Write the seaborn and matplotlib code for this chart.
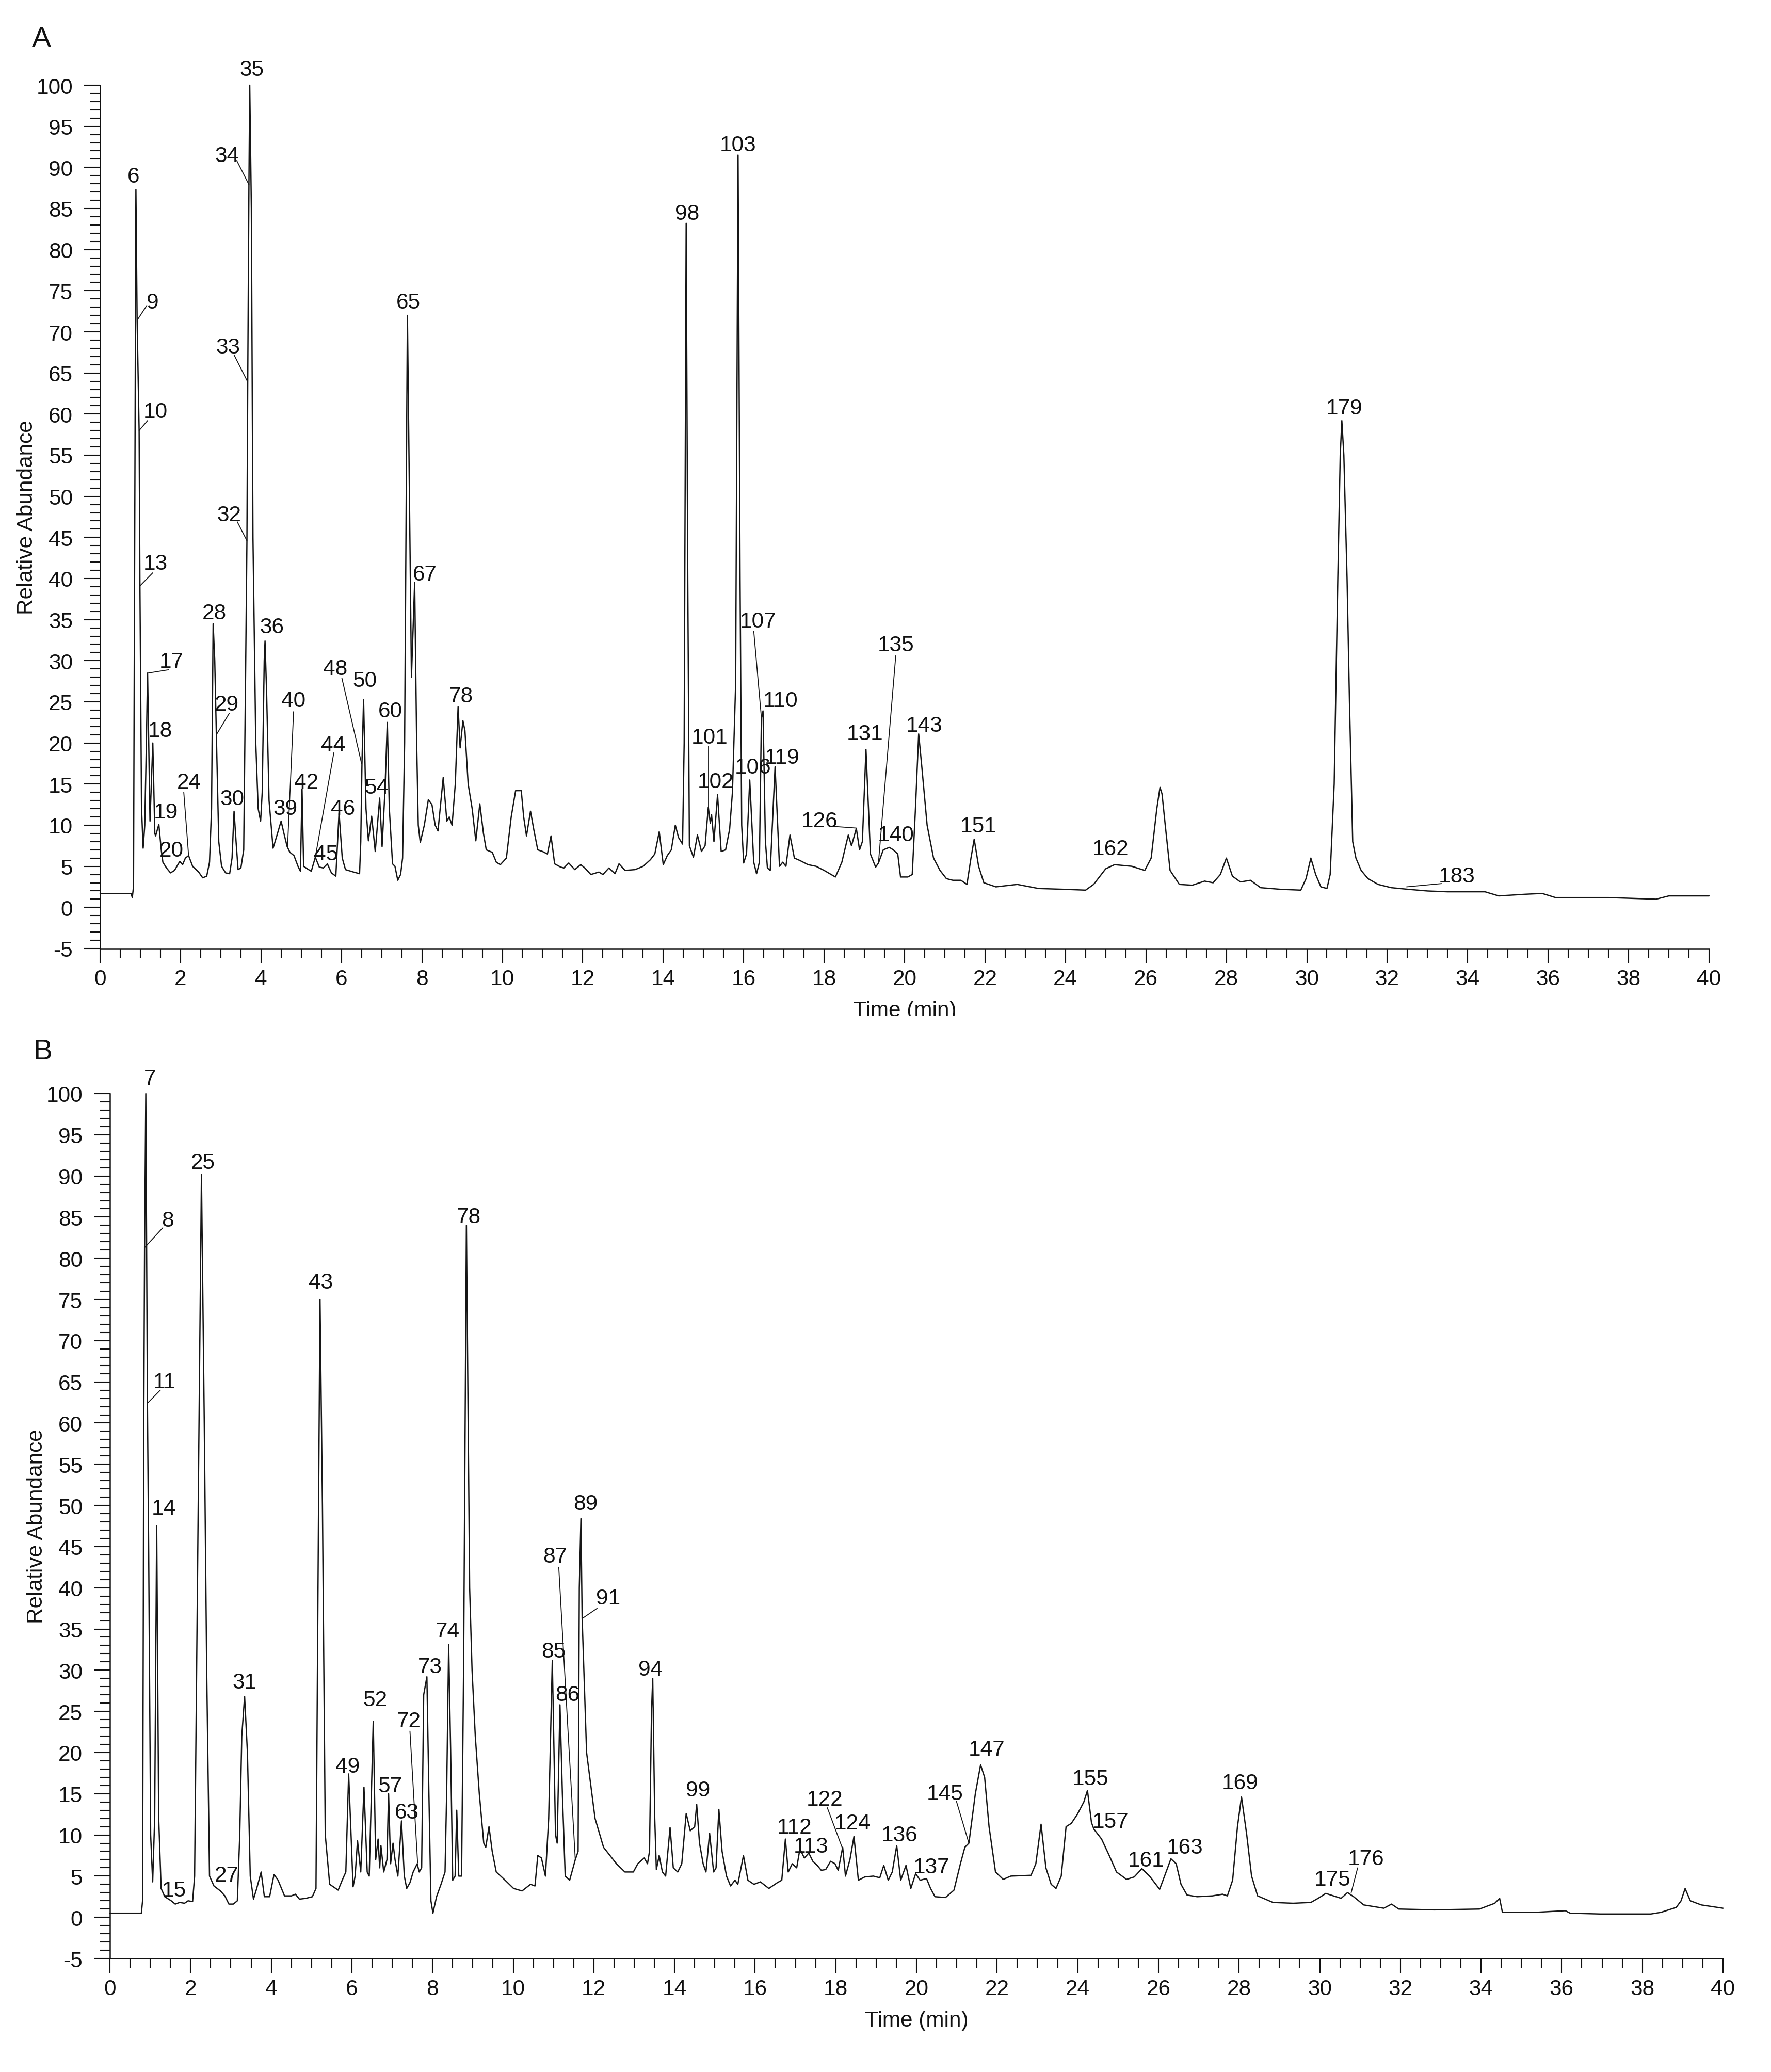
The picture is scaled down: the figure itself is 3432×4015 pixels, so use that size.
import numpy as np
import pandas as pd
import matplotlib
matplotlib.use("Agg")
import matplotlib.pyplot as plt
import seaborn as sns
from matplotlib.ticker import MultipleLocator
from matplotlib.transforms import Bbox, TransformedBbox

# ---------------- data: panel A trace (time, relative abundance) ----------------
a_time = [0.00, 0.77, 0.80, 0.83, 0.86, 0.89, 0.92, 0.97, 0.99, 1.03, 1.07, 1.11, 1.15, 1.18, 1.24,
          1.31, 1.36, 1.38, 1.46, 1.52, 1.56, 1.65, 1.75, 1.85, 1.98, 2.05, 2.12, 2.20, 2.30, 2.45,
          2.55, 2.65, 2.72, 2.77, 2.81, 2.85, 2.89, 2.95, 3.02, 3.12, 3.22, 3.28, 3.33, 3.38, 3.43,
          3.50, 3.57, 3.62, 3.65, 3.67, 3.70, 3.72, 3.76, 3.80, 3.87, 3.93, 3.99, 4.03, 4.08, 4.10,
          4.14, 4.20, 4.30, 4.38, 4.50, 4.57, 4.65, 4.72, 4.82, 4.92, 4.98, 5.02, 5.06, 5.15, 5.25,
          5.35, 5.45, 5.55, 5.65, 5.75, 5.86, 5.94, 6.02, 6.10, 6.30, 6.45, 6.48, 6.51, 6.55, 6.61,
          6.67, 6.75, 6.84, 6.95, 7.01, 7.08, 7.14, 7.19, 7.27, 7.33, 7.40, 7.47, 7.52, 7.57, 7.64,
          7.69, 7.74, 7.82, 7.87, 7.91, 7.96, 8.06, 8.16, 8.25, 8.33, 8.40, 8.53, 8.62, 8.68, 8.75,
          8.83, 8.90, 8.95, 9.02, 9.07, 9.15, 9.25, 9.34, 9.44, 9.53, 9.60, 9.75, 9.85, 9.95, 10.10,
          10.22, 10.33, 10.47, 10.53, 10.60, 10.70, 10.78, 10.88, 11.00, 11.12, 11.21, 11.30, 11.45,
          11.53, 11.65, 11.80, 11.95, 12.05, 12.20, 12.40, 12.50, 12.65, 12.80, 12.90, 13.05, 13.30,
          13.50, 13.68, 13.79, 13.90, 14.00, 14.10, 14.20, 14.30, 14.38, 14.48, 14.52, 14.57, 14.61,
          14.65, 14.75, 14.85, 14.95, 15.04, 15.12, 15.17, 15.20, 15.26, 15.35, 15.44, 15.55, 15.65,
          15.72, 15.80, 15.86, 15.91, 15.95, 16.00, 16.07, 16.15, 16.25, 16.32, 16.39, 16.44, 16.48,
          16.54, 16.59, 16.66, 16.78, 16.89, 16.97, 17.05, 17.15, 17.26, 17.40, 17.60, 17.80, 18.00,
          18.28, 18.44, 18.60, 18.68, 18.80, 18.88, 18.95, 19.04, 19.15, 19.28, 19.35, 19.47, 19.62,
          19.72, 19.83, 19.90, 20.08, 20.19, 20.27, 20.35, 20.43, 20.56, 20.72, 20.88, 21.04, 21.20,
          21.40, 21.55, 21.65, 21.73, 21.84, 21.97, 22.27, 22.80, 23.33, 23.97, 24.50, 24.70, 25.00,
          25.22, 25.65, 25.97, 26.13, 26.27, 26.35, 26.40, 26.48, 26.60, 26.83, 27.15, 27.46, 27.67,
          27.85, 28.00, 28.15, 28.35, 28.60, 28.85, 29.35, 29.85, 29.98, 30.10, 30.22, 30.35, 30.50,
          30.58, 30.68, 30.77, 30.83, 30.87, 30.92, 31.00, 31.06, 31.14, 31.22, 31.35, 31.52, 31.77,
          32.10, 32.52, 33.00, 33.50, 34.18, 34.43, 34.77, 35.43, 35.85, 36.18, 36.68, 37.50, 38.68,
          39.00, 40.00]
a_abund = [1.7, 1.7, 1.2, 2.5, 45.0, 87.3, 71.4, 58.0, 39.1, 12.0, 7.2, 10.0, 20.0, 28.5, 10.5,
           20.0, 9.0, 8.7, 10.1, 7.0, 5.5, 4.8, 4.2, 4.5, 5.6, 5.2, 6.0, 6.3, 5.0, 4.3,
           3.6, 3.8, 5.5, 12.0, 34.5, 30.0, 21.0, 8.0, 5.0, 4.2, 4.1, 6.0, 11.7, 8.0, 4.6,
           4.8, 7.0, 30.0, 44.6, 63.9, 87.9, 100.0, 85.0, 45.0, 20.0, 12.0, 10.5, 14.0, 30.0, 32.4,
           26.0, 13.0, 7.2, 8.5, 10.5, 9.0, 7.4, 6.7, 6.3, 5.0, 4.4, 14.4, 5.0, 4.7, 4.4,
           6.1, 4.9, 4.8, 5.3, 4.2, 3.8, 11.5, 6.0, 4.6, 4.3, 4.1, 8.0, 17.5, 25.3, 12.0,
           8.1, 11.1, 6.8, 13.3, 7.4, 14.0, 22.5, 12.0, 5.3, 5.0, 3.3, 4.0, 6.0, 20.0, 72.0,
           50.0, 28.0, 39.5, 20.0, 10.0, 7.9, 10.0, 13.1, 12.5, 10.0, 9.3, 15.8, 10.5, 11.0, 10.0,
           15.0, 24.4, 19.4, 22.7, 21.5, 15.0, 12.0, 8.1, 12.6, 9.0, 7.0, 6.7, 5.5, 5.2, 6.0,
           11.0, 14.2, 14.2, 11.0, 8.7, 11.7, 9.5, 7.0, 6.8, 6.5, 8.7, 5.3, 4.9,
           4.8, 5.4, 4.6, 5.2, 4.8, 4.0, 4.3, 4.0, 4.8, 4.1, 5.3, 4.5, 4.6,
           5.0, 5.8, 6.5, 9.2, 5.2, 6.3, 7.0, 10.0, 8.5, 7.7, 20.0, 83.2, 40.0,
           7.5, 6.1, 8.8, 6.8, 7.5, 12.2, 10.2, 11.3, 8.0, 13.7, 6.8, 7.0, 9.5,
           14.0, 27.2, 91.5, 40.0, 10.0, 5.4, 6.5, 15.5, 5.5, 4.1, 5.5, 23.0, 23.9,
           8.0, 4.8, 4.5, 17.1, 5.0, 5.5, 5.0, 8.8, 6.0, 5.7, 5.2, 5.0, 4.5,
           3.7, 5.5, 8.8, 7.5, 9.6, 7.0, 8.0, 19.2, 6.5, 4.9, 5.4, 7.0, 7.3,
           7.0, 6.5, 3.7, 3.7, 4.0, 12.0, 21.1, 17.0, 10.0, 6.0, 4.5, 3.5, 3.3,
           3.3, 2.8, 6.0, 8.3, 5.0, 3.0, 2.5, 2.8, 2.3, 2.2, 2.1, 2.8, 4.7,
           5.2, 5.0, 4.5, 6.0, 12.0, 14.6, 13.8, 10.0, 4.5, 2.8, 2.7, 3.2, 3.0,
           4.0, 6.0, 3.8, 3.1, 3.3, 2.4, 2.2, 2.1, 3.5, 6.0, 4.0, 2.5, 2.3,
           4.0, 15.0, 40.0, 55.0, 59.2, 55.0, 40.0, 25.0, 8.0, 6.0, 4.5, 3.5, 2.8,
           2.4, 2.2, 2.0, 1.9, 1.9, 1.9, 1.4, 1.6, 1.7, 1.2, 1.2, 1.2, 1.0,
           1.4, 1.4]

a_peak_ids = ["6", "9", "10", "13", "17", "18", "19", "20", "24", "28", "29", "30", "32", "33",
              "34", "35", "36", "39", "40", "42", "44", "45", "46", "48", "50", "54", "60", "65",
              "67", "78", "98", "101", "102", "103", "106", "107", "110", "119", "126", "131",
              "135", "140", "143", "151", "162", "179", "183"]
a_label_t = [0.83, 1.31, 1.38, 1.38, 1.77, 1.49, 1.64, 1.77, 2.21, 2.84, 3.15, 3.28, 3.21, 3.18,
             3.15, 3.77, 4.27, 4.61, 4.81, 5.12, 5.79, 5.62, 6.04, 5.84, 6.58, 6.88, 7.22, 7.67,
             8.08, 8.97, 14.59, 15.15, 15.31, 15.86, 16.23, 16.36, 16.92, 16.95, 17.89, 19.02,
             19.78, 19.78, 20.49, 21.84, 25.12, 30.93, 33.73]
a_label_v = [88.9, 73.6, 60.3, 41.8, 29.9, 21.5, 11.6, 6.9, 15.2, 35.8, 24.7, 13.2, 47.7, 68.1,
             91.4, 101.9, 34.1, 12.0, 25.1, 15.2, 19.7, 6.5, 12.0, 29.0, 27.6, 14.6, 23.9, 73.6,
             40.5, 25.7, 84.4, 20.7, 15.3, 92.7, 17.0, 34.8, 25.1, 18.2, 10.5, 21.1,
             31.9, 8.8, 22.1, 9.85, 7.1, 60.7, 3.8]
a_leader_t0 = [1.16, 1.18, 1.31, 1.70, 2.08, 3.21, 3.41, 3.33, 3.40, 4.81, 5.81, 6.01, 15.12, 16.25, 18.24, 19.78, 32.48]
a_leader_v0 = [73.2, 59.2, 40.7, 28.9, 14.0, 23.6, 46.9, 67.2, 90.8, 23.8, 18.8, 27.9, 19.6, 33.6, 9.85, 30.6, 2.5]
a_leader_t1 = [0.92, 0.97, 0.99, 1.19, 2.20, 2.89, 3.65, 3.67, 3.70, 4.66, 5.35, 6.50, 15.12, 16.44, 18.80, 19.35, 33.35]
a_leader_v1 = [71.4, 58.0, 39.1, 28.5, 6.3, 21.0, 44.6, 63.9, 87.9, 7.4, 6.1, 17.5, 12.2, 23.1, 9.65, 5.4, 2.9]

# ---------------- data: panel B trace ----------------
b_time = [0.00, 0.78, 0.81, 0.84, 0.86, 0.89, 0.93, 0.96, 1.01, 1.06, 1.11, 1.16, 1.21, 1.27, 1.36,
          1.52, 1.62, 1.73, 1.85, 1.94, 2.05, 2.10, 2.15, 2.19, 2.27, 2.34, 2.40, 2.47, 2.58, 2.74,
          2.85, 2.95, 3.06, 3.16, 3.22, 3.27, 3.34, 3.41, 3.48, 3.56, 3.64, 3.75, 3.83, 3.96, 4.07,
          4.17, 4.33, 4.50, 4.60, 4.70, 4.86, 5.02, 5.11, 5.16, 5.21, 5.27, 5.34, 5.45, 5.66, 5.76,
          5.85, 5.92, 6.03, 6.08, 6.14, 6.22, 6.30, 6.38, 6.43, 6.53, 6.59, 6.65, 6.69, 6.72, 6.79,
          6.87, 6.91, 6.96, 7.02, 7.07, 7.14, 7.23, 7.30, 7.36, 7.44, 7.52, 7.62, 7.67, 7.73, 7.78,
          7.86, 7.91, 7.96, 8.01, 8.10, 8.21, 8.31, 8.35, 8.40, 8.45, 8.50, 8.56, 8.60, 8.65, 8.72,
          8.77, 8.84, 8.92, 8.98, 9.06, 9.16, 9.27, 9.32, 9.40, 9.48, 9.58, 9.80, 10.01, 10.22, 10.43,
          10.54, 10.61, 10.70, 10.80, 10.88, 10.97, 11.05, 11.09, 11.16, 11.22, 11.29, 11.40, 11.54,
          11.61, 11.64, 11.68, 11.71, 11.82, 12.03, 12.24, 12.56, 12.77, 12.98, 13.09, 13.25, 13.33,
          13.38, 13.43, 13.46, 13.51, 13.55, 13.62, 13.70, 13.78, 13.89, 13.97, 14.08, 14.18, 14.29,
          14.39, 14.50, 14.55, 14.62, 14.71, 14.78, 14.87, 14.97, 15.03, 15.10, 15.18, 15.29, 15.39,
          15.50, 15.57, 15.71, 15.82, 15.97, 16.13, 16.34, 16.55, 16.66, 16.75, 16.82, 16.92, 17.03,
          17.11, 17.22, 17.33, 17.43, 17.54, 17.64, 17.75, 17.87, 17.98, 18.06, 18.17, 18.24, 18.35,
          18.45, 18.56, 18.72, 18.93, 19.09, 19.19, 19.30, 19.40, 19.51, 19.61, 19.74, 19.86, 19.98,
          20.09, 20.25, 20.35, 20.46, 20.72, 20.93, 21.09, 21.20, 21.30, 21.46, 21.59, 21.69, 21.80,
          21.96, 22.15, 22.34, 22.84, 22.96, 23.09, 23.21, 23.34, 23.46, 23.59, 23.71, 23.84, 23.99,
          24.15, 24.24, 24.34, 24.40, 24.59, 24.78, 24.96, 25.21, 25.40, 25.59, 25.78, 26.03, 26.19,
          26.31, 26.44, 26.56, 26.71, 26.96, 27.34, 27.59, 27.71, 27.84, 27.96, 28.06, 28.19, 28.31,
          28.46, 28.84, 29.34, 29.78, 29.96, 30.15, 30.34, 30.53, 30.69, 30.84, 31.09, 31.59, 31.78,
          31.96, 32.84, 33.96, 34.34, 34.46, 34.53, 35.34, 36.09, 36.21, 36.96, 38.21, 38.46, 38.84,
          38.96, 39.06, 39.19, 39.46, 40.00]
b_abund = [0.5, 0.5, 2.0, 60.0, 81.3, 100.0, 62.4, 45.0, 10.0, 4.3, 12.0, 47.5, 12.0, 3.5, 2.5,
           2.0, 1.6, 1.8, 1.7, 2.0, 1.9, 5.0, 30.0, 50.0, 90.2, 60.0, 30.0, 5.0, 3.8, 3.2,
           2.6, 1.6, 1.6, 2.0, 10.0, 22.0, 26.8, 20.0, 5.0, 2.2, 3.5, 5.5, 2.5, 2.5, 5.2,
           4.5, 2.6, 2.6, 2.8, 2.2, 2.3, 2.5, 3.5, 40.0, 75.0, 50.0, 10.0, 4.0, 3.3, 4.5,
           5.5, 17.4, 3.7, 5.0, 9.3, 5.5, 15.8, 5.5, 5.0, 23.8, 7.0, 9.5, 6.0, 8.7, 5.5,
           7.0, 15.0, 6.5, 9.0, 7.0, 5.0, 11.7, 5.0, 3.5, 4.2, 5.5, 6.5, 5.5, 6.0, 27.0,
           29.2, 15.0, 2.0, 0.5, 2.5, 4.0, 5.5, 15.0, 33.1, 20.0, 4.5, 5.0, 13.0, 5.0, 5.0,
           30.0, 84.0, 40.0, 30.0, 22.0, 15.0, 9.0, 8.5, 11.0, 8.0, 5.5, 4.5, 3.5, 3.2, 4.0,
           3.8, 7.5, 7.2, 5.0, 12.0, 31.2, 10.0, 9.0, 25.8, 15.0, 5.0, 4.5, 7.0,
           8.0, 40.0, 48.4, 36.3, 20.0, 12.0, 8.5, 6.5, 5.5, 5.5, 6.5, 7.2, 6.5,
           8.0, 25.0, 29.0, 12.0, 5.8, 7.5, 5.5, 5.0, 10.9, 6.0, 5.5, 6.5, 12.6,
           10.5, 11.0, 13.7, 9.0, 6.5, 5.5, 10.2, 5.5, 6.0, 13.1, 8.0, 5.0, 3.8,
           4.5, 4.0, 7.5, 4.5, 4.0, 4.3, 3.5, 4.2, 4.5, 9.5, 5.5, 6.5, 6.0,
           8.3, 7.2, 7.8, 6.8, 6.3, 5.7, 5.8, 6.8, 6.5, 5.7, 8.5, 5.0, 7.0,
           9.8, 4.5, 4.9, 5.0, 4.8, 6.3, 4.5, 5.5, 8.7, 4.5, 6.3, 3.5, 5.3,
           4.5, 4.7, 3.5, 2.5, 2.4, 3.3, 6.5, 8.5, 9.0, 15.0, 18.5, 17.0, 11.0,
           5.5, 4.6, 5.0, 5.1, 6.5, 11.3, 6.0, 4.0, 3.5, 5.0, 11.0, 11.4, 12.5,
           14.0, 15.4, 11.5, 10.7, 9.5, 7.5, 5.5, 4.6, 4.9, 5.9, 5.0, 3.4, 5.5,
           7.1, 6.5, 4.0, 2.7, 2.5, 2.6, 2.8, 2.6, 4.5, 11.0, 14.6, 10.0, 5.0,
           2.6, 1.8, 1.7, 1.8, 2.3, 2.9, 2.6, 2.3, 3.0, 2.5, 1.5, 1.1, 1.6,
           1.0, 0.9, 1.0, 1.7, 2.3, 0.6, 0.6, 0.8, 0.5, 0.4, 0.4, 0.6, 1.2,
           2.0, 3.5, 2.0, 1.5, 1.1]

b_peak_ids = ["7", "8", "11", "14", "15", "25", "27", "31", "43", "49", "52", "57", "63", "72",
              "73", "74", "78", "85", "86", "87", "89", "91", "94", "99", "112", "113", "122",
              "124", "136", "137", "145", "147", "155", "157", "161", "163", "169", "175", "176"]
b_label_t = [0.99, 1.43, 1.36, 1.33, 1.59, 2.31, 2.90, 3.34, 5.23, 5.89, 6.58, 6.95, 7.36, 7.41,
             7.94, 8.37, 8.90, 11.00, 11.34, 11.04, 11.79, 12.35, 13.41, 14.58, 16.98, 17.38, 17.72,
             18.42, 19.58, 20.37, 20.70, 21.74, 24.31, 24.81, 25.69, 26.65, 28.03, 30.31, 31.15]
b_label_v = [101.8, 84.6, 65.0, 49.6, 3.3, 91.6, 5.1, 28.5, 77.1, 18.3, 26.4, 15.9, 12.7, 23.8,
             30.4, 34.7, 85.0, 32.3, 27.0, 43.8, 50.2, 38.7, 30.1, 15.4, 10.9, 8.6, 14.3,
             11.4, 10.0, 6.1, 15.0, 20.4, 16.8, 11.6, 6.9, 8.5, 16.3, 4.6, 7.1]
b_leader_t0 = [1.31, 1.25, 7.44, 11.13, 12.08, 17.79, 20.99, 30.94]
b_leader_v0 = [83.7, 64.0, 22.6, 42.5, 37.5, 13.3, 14.1, 6.0]
b_leader_t1 = [0.86, 0.93, 7.63, 11.54, 11.72, 18.17, 21.30, 30.78]
b_leader_v1 = [81.3, 62.4, 6.6, 7.0, 36.3, 8.3, 9.0, 3.0]

# ---------------- styling ----------------
sns.set_theme(style="ticks")
plt.rcParams['font.family'] = ['Liberation Sans', 'DejaVu Sans']
plt.rcParams['axes.unicode_minus'] = False

W, H = 3432, 4016
fig = plt.figure(figsize=(W / 100, H / 100), dpi=100)
fig.patch.set_facecolor('white')

LINE_COL = '#161616'
FS = 30.5


def make_panel(rect, times, abund, ids, lt, lv, l_t0, l_v0, l_t1, l_v1, letter, letter_xy):
    ax = fig.add_axes(rect)
    df = pd.DataFrame({"Time (min)": times, "Relative Abundance": abund})
    sns.lineplot(data=df, x="Time (min)", y="Relative Abundance", ax=ax, color=LINE_COL,
                 linewidth=1.8, sort=False, estimator=None)
    for ln in ax.lines:
        ln.set_clip_on(False)
    for t0, v0, t1, v1 in zip(l_t0, l_v0, l_t1, l_v1):
        ax.plot([t0, t1], [v0, v1], color=LINE_COL, linewidth=1.3)
    for s, t, v in zip(ids, lt, lv):
        ax.text(t, v, s, ha='center', va='center', fontsize=FS, color='#111111')
    ax.set_xlim(0, 40)
    ax.set_ylim(-5, 100)
    ax.xaxis.set_major_locator(MultipleLocator(2))
    ax.xaxis.set_minor_locator(MultipleLocator(0.5))
    ax.yaxis.set_major_locator(MultipleLocator(5))
    ax.yaxis.set_minor_locator(MultipleLocator(1))
    ax.tick_params(axis='x', which='major', length=21, width=1.5, pad=7, labelsize=FS,
                   direction='out', bottom=True, colors='#111111')
    ax.tick_params(axis='x', which='minor', length=14, width=1.5, direction='out', bottom=True,
                   colors='#111111')
    ax.tick_params(axis='y', which='major', length=22, width=1.5, pad=16, labelsize=FS,
                   direction='out', left=True, colors='#111111')
    ax.tick_params(axis='y', which='minor', length=14, width=1.5, direction='out', left=True,
                   colors='#111111')
    for side in ('top', 'right'):
        ax.spines[side].set_visible(False)
    for side in ('left', 'bottom'):
        ax.spines[side].set_linewidth(1.8)
        ax.spines[side].set_color('#111111')
    ax.set_xlabel("Time (min)", fontsize=FS, color='#111111')
    ax.set_ylabel("Relative Abundance", fontsize=FS, color='#111111')
    ax.xaxis.set_label_coords(0.5, -0.0598)
    ax.xaxis.label.set_va('top')
    ax.yaxis.set_label_coords(-0.039, 0.5)
    ax.set_facecolor('white')
    fig.text(letter_xy[0], letter_xy[1], letter, fontsize=40, ha='center', va='center',
             color='#111111')
    return ax


axA = make_panel([194 / W, 1 - 1839 / H, 3118 / W, (1839 - 166) / H],
                 a_time, a_abund, a_peak_ids, a_label_t, a_label_v,
                 a_leader_t0, a_leader_v0, a_leader_t1, a_leader_v1,
                 "A", (80 / W, 1 - 77 / H))
axB = make_panel([213 / W, 1 - 3796 / H, 3126 / W, (3796 - 2120) / H],
                 b_time, b_abund, b_peak_ids, b_label_t, b_label_v,
                 b_leader_t0, b_leader_v0, b_leader_t1, b_leader_v1,
                 "B", (83 / W, 1 - 2039 / H))

# panel A's time label is cut at its baseline in the original figure
clip = TransformedBbox(Bbox([[0, 1 - 1969 / H], [1, 1]]), fig.transFigure)
axA.xaxis.label.set_clip_box(clip)
axA.xaxis.label.set_clip_on(True)

fig.savefig("out.png", dpi=100, facecolor='white')
